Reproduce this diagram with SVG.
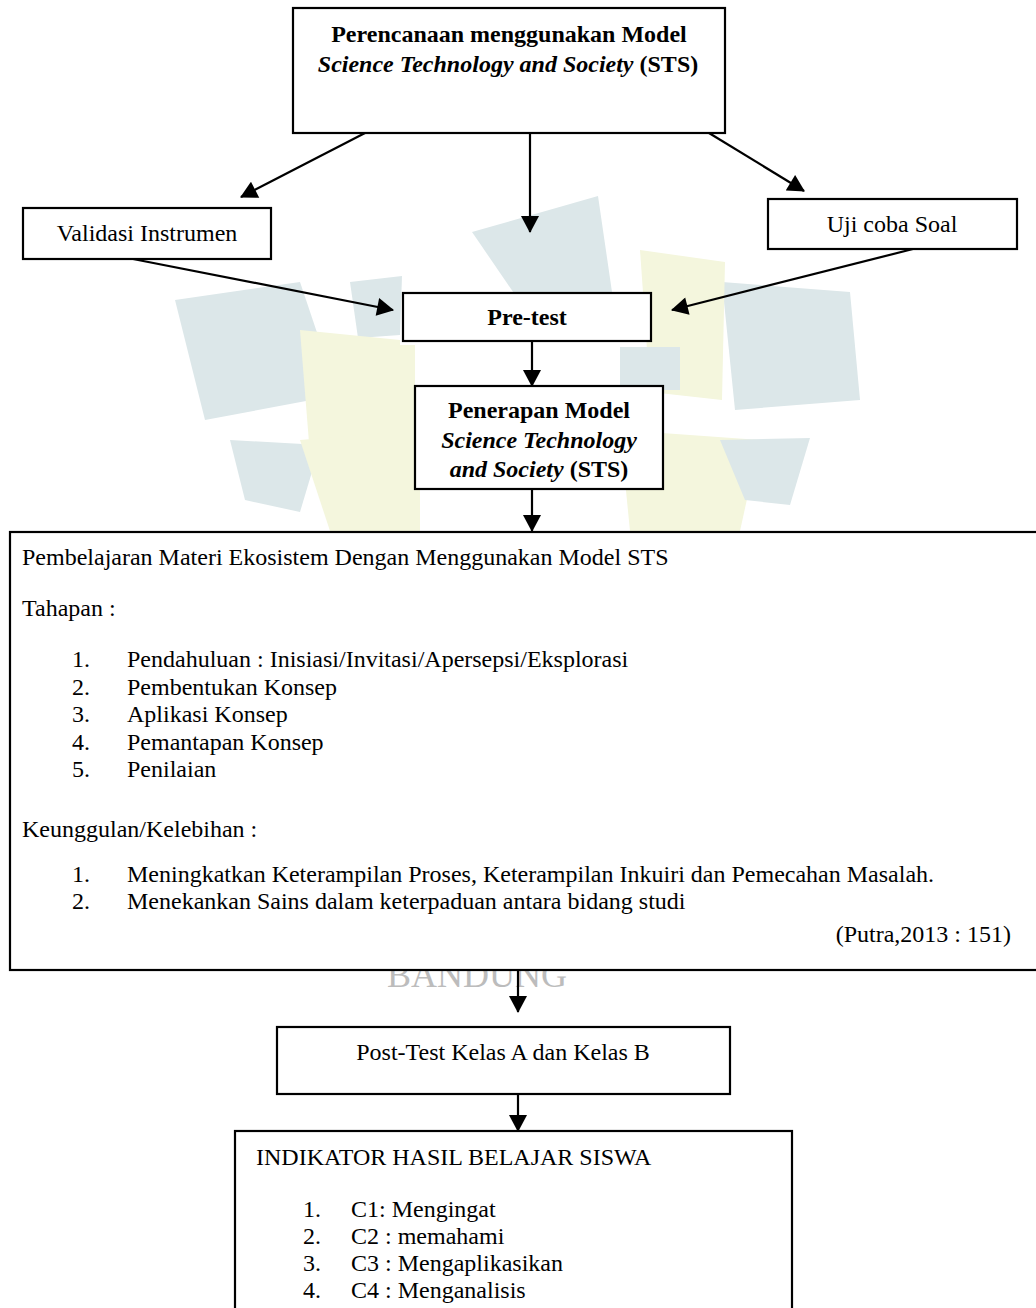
<svg xmlns="http://www.w3.org/2000/svg" width="1036" height="1308" viewBox="0 0 1036 1308">
<style>
.box{fill:#ffffff;stroke:#000000;stroke-width:2.2}
.t{font-family:"Liberation Serif","Times New Roman",serif;font-size:24px;fill:#000000}
.b{font-weight:bold}
.i{font-style:italic}
.c{text-anchor:middle}
.e{text-anchor:end}
.edge{fill:none;stroke:#000000;stroke-width:2.2}
.wmT{fill:#dce7e9}
.wmY{fill:#f4f6dd}
</style>
<defs>
<marker id="ah" markerUnits="userSpaceOnUse" markerWidth="18" markerHeight="18" viewBox="0 0 16 17" refX="15" refY="8.5" orient="auto">
<path d="M0,0 L16,8.5 L0,17 Z" fill="#000000"/>
</marker>
</defs>
<rect width="1036" height="1308" fill="#ffffff"/>
<g id="watermark">
<polygon class="wmT" points="472,232 598,196 612,292 520,302"/>
<polygon class="wmT" points="175,300 300,282 338,395 205,420"/>
<polygon class="wmT" points="350,282 402,276 400,335 358,338"/>
<polygon class="wmT" points="722,282 850,292 860,400 735,410"/>
<polygon class="wmY" points="640,250 725,262 722,400 650,392"/>
<polygon class="wmY" points="300,330 400,340 400,470 310,455"/>
<polygon class="wmT" points="230,440 320,445 300,512 245,500"/>
<polygon class="wmY" points="300,440 420,430 420,531 330,531"/>
<polygon class="wmY" points="620,430 760,440 740,531 630,531"/>
<polygon class="wmT" points="720,440 810,438 790,505 745,500"/>
<polygon class="wmY" points="380,345 415,345 415,480 380,480"/>
<polygon class="wmT" points="620,347 680,347 680,390 620,390"/>
<text class="t" x="477" y="987" text-anchor="middle" style="font-size:36px;fill:#bcbcbc">BANDUNG</text>
</g>
<g id="connectors">
<line class="edge" x1="365" y1="133" x2="241" y2="197" marker-end="url(#ah)"/>
<line class="edge" x1="530" y1="133" x2="530" y2="232" marker-end="url(#ah)"/>
<line class="edge" x1="709" y1="133" x2="804" y2="191" marker-end="url(#ah)"/>
<line class="edge" x1="133" y1="259" x2="393" y2="310" marker-end="url(#ah)"/>
<line class="edge" x1="913" y1="249" x2="672" y2="310" marker-end="url(#ah)"/>
<line class="edge" x1="532" y1="341" x2="532" y2="386" marker-end="url(#ah)"/>
<line class="edge" x1="532" y1="489" x2="532" y2="531" marker-end="url(#ah)"/>
<line class="edge" x1="518" y1="970" x2="518" y2="1012" marker-end="url(#ah)"/>
<line class="edge" x1="518" y1="1094" x2="518" y2="1131" marker-end="url(#ah)"/>
</g>
<g id="node-perencanaan">
<rect class="box" x="293" y="8" width="432" height="125"/>
<text class="t b c" x="509" y="42">Perencanaan menggunakan Model</text>
<text class="t b c" x="508" y="72"><tspan class="i">Science Technology and Society</tspan> (STS)</text>
</g>
<g id="node-validasi">
<rect class="box" x="23" y="208" width="248" height="51"/>
<text class="t c" x="147" y="241">Validasi Instrumen</text>
</g>
<g id="node-ujicoba">
<rect class="box" x="768" y="199" width="249" height="50"/>
<text class="t c" x="892" y="232">Uji coba Soal</text>
</g>
<g id="node-pretest">
<rect class="box" x="403" y="293" width="248" height="48"/>
<text class="t b c" x="527" y="325">Pre-test</text>
</g>
<g id="node-penerapan">
<rect class="box" x="415" y="386" width="248" height="103"/>
<text class="t b c" x="539" y="418">Penerapan Model</text>
<text class="t b i c" x="539" y="448">Science Technology</text>
<text class="t b c" x="539" y="477"><tspan class="i">and Society</tspan> (STS)</text>
</g>
<g id="node-pembelajaran">
<rect class="box" x="10" y="532" width="1040" height="438"/>
<text class="t" x="22" y="565">Pembelajaran Materi Ekosistem Dengan Menggunakan Model STS</text>
<text class="t" x="22" y="616">Tahapan :</text>
<text class="t" x="72" y="667">1.</text><text class="t" x="127" y="667">Pendahuluan : Inisiasi/Invitasi/Apersepsi/Eksplorasi</text>
<text class="t" x="72" y="694.5">2.</text><text class="t" x="127" y="694.5">Pembentukan Konsep</text>
<text class="t" x="72" y="722">3.</text><text class="t" x="127" y="722">Aplikasi Konsep</text>
<text class="t" x="72" y="749.5">4.</text><text class="t" x="127" y="749.5">Pemantapan Konsep</text>
<text class="t" x="72" y="777">5.</text><text class="t" x="127" y="777">Penilaian</text>
<text class="t" x="22" y="837">Keunggulan/Kelebihan :</text>
<text class="t" x="72" y="882">1.</text><text class="t" x="127" y="882">Meningkatkan Keterampilan Proses, Keterampilan Inkuiri dan Pemecahan Masalah.</text>
<text class="t" x="72" y="909">2.</text><text class="t" x="127" y="909">Menekankan Sains dalam keterpaduan antara bidang studi</text>
<text class="t e" x="1011" y="942">(Putra,2013 : 151)</text>
</g>
<g id="node-posttest">
<rect class="box" x="277" y="1027" width="453" height="67"/>
<text class="t c" x="503" y="1060">Post-Test Kelas A dan Kelas B</text>
</g>
<g id="node-indikator">
<rect class="box" x="235" y="1131" width="557" height="200"/>
<text class="t" x="256" y="1165">INDIKATOR HASIL BELAJAR SISWA</text>
<text class="t" x="303" y="1217">1.</text><text class="t" x="351" y="1217">C1: Mengingat</text>
<text class="t" x="303" y="1244">2.</text><text class="t" x="351" y="1244">C2 : memahami</text>
<text class="t" x="303" y="1271">3.</text><text class="t" x="351" y="1271">C3 : Mengaplikasikan</text>
<text class="t" x="303" y="1298">4.</text><text class="t" x="351" y="1298">C4 : Menganalisis</text>
</g>
</svg>
